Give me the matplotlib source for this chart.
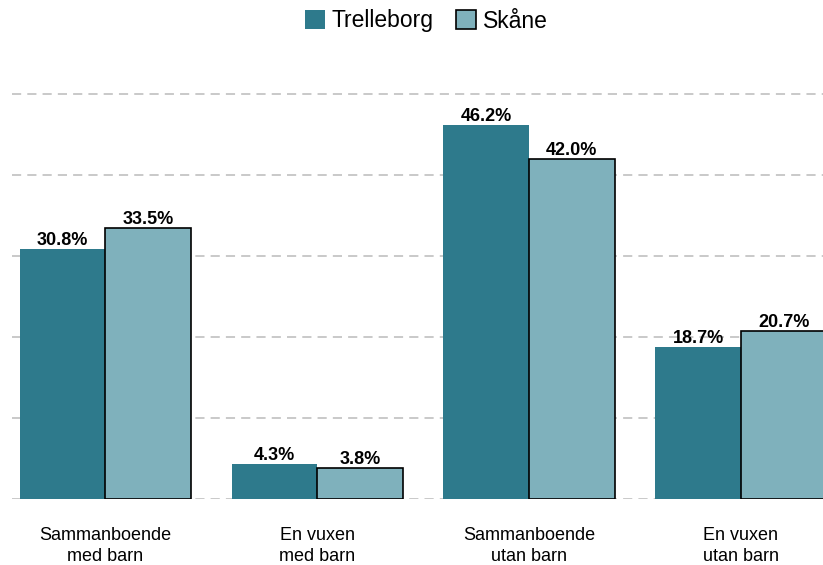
import numpy as np
import matplotlib.pyplot as plt

plt.rcParams['font.family'] = ['Liberation Sans', 'DejaVu Sans']

# Hushållstyper
kategorier = ['Sammanboende\nmed barn', 'En vuxen\nmed barn', 'Sammanboende\nutan barn', 'En vuxen\nutan barn']
trelleborg = [30.8, 4.3, 46.2, 18.7]
skane = [33.5, 3.8, 42.0, 20.7]
serier = ['Trelleborg', 'Skåne']

farg_trelleborg = '#2e7a8c'
farg_skane = '#7fb1bc'

fig = plt.figure(figsize=(8.23, 5.65), dpi=100)
ax = fig.add_axes([12 / 823, 66 / 565, 811 / 823, 419 / 565])

x = np.arange(len(kategorier))
b = 0.404

stap1 = ax.bar(x - b / 2, trelleborg, b, color=farg_trelleborg, label=serier[0], zorder=3)
stap2 = ax.bar(x + b / 2, skane, b, color=farg_skane, edgecolor='black', linewidth=1.2,
               label=serier[1], zorder=3)

ax.bar_label(stap1, labels=['{:.1f}%'.format(v) for v in trelleborg], padding=0,
             fontsize=13, fontweight='bold', zorder=4)
ax.bar_label(stap2, labels=['{:.1f}%'.format(v) for v in skane], padding=0,
             fontsize=13, fontweight='bold', zorder=4)

ax.set_xlim(-0.441, 3.388)
ax.set_ylim(0, 51.7)
ax.set_yticks(np.arange(0, 51, 10))
ax.yaxis.grid(True, color='#bbbbbb', linestyle=(0, (6, 4)), linewidth=1.1, zorder=0)
ax.tick_params(axis='y', left=False, labelleft=False)
ax.set_xticks(x)
ax.set_xticklabels(kategorier, fontsize=13, linespacing=1.3)
ax.tick_params(axis='x', bottom=False, pad=17)
for s in ax.spines.values():
    s.set_visible(False)

fig.legend(handles=[stap1, stap2], labels=serier, loc='center', bbox_to_anchor=(0.518, 1 - 21 / 565),
           ncol=2, frameon=False, fontsize=16.5, handlelength=0.85, handleheight=0.85,
           handletextpad=0.3, columnspacing=1.0)

fig.savefig('out.png', dpi=100)
